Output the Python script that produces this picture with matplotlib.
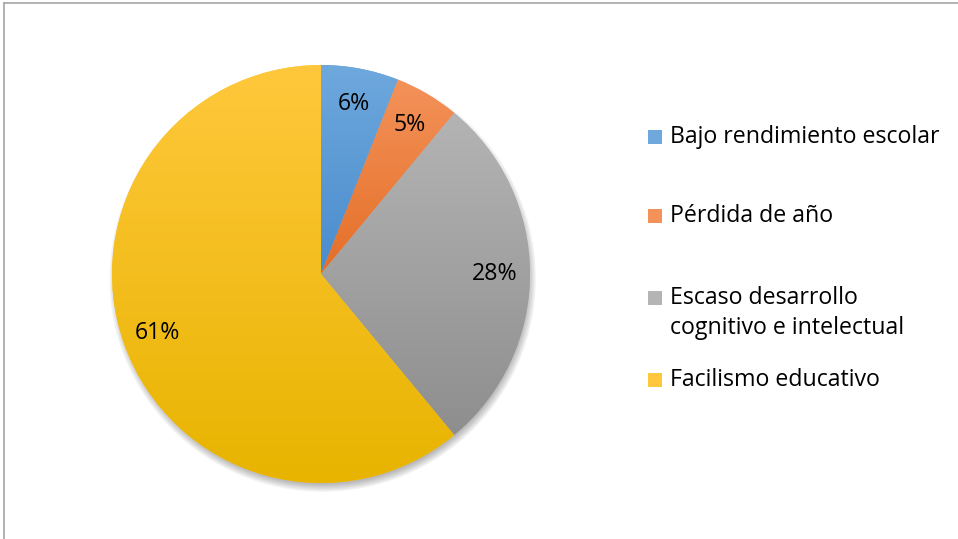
import numpy as np
import matplotlib
matplotlib.use("Agg")
import matplotlib.pyplot as plt
from matplotlib.lines import Line2D
from matplotlib.patches import Rectangle, Circle
from matplotlib.colors import LinearSegmentedColormap

labels = ["Bajo rendimiento escolar", "Pérdida de año",
          "Escaso desarrollo\ncognitivo e intelectual", "Facilismo educativo"]
values = [6, 5, 28, 61]
light = ["#6EA8DD", "#F4925A", "#B4B4B4", "#FFC83C"]
dark = ["#4A8CCD", "#E46F27", "#8E8E8E", "#E8B400"]

W, H = 958, 539
FONT = "Open Sans"
FS = 16.7

fig = plt.figure(figsize=(W / 100, H / 100), dpi=100)
fig.patch.set_facecolor("white")

# frame lines (top and left)
fig.add_artist(Line2D([4 / W, 1], [1 - 2.5 / H] * 2, color="#A6A6A6", lw=1.2))
fig.add_artist(Line2D([4 / W] * 2, [0, 1 - 2.5 / H], color="#A6A6A6", lw=1.2))

cx, cy, R = 321, 274, 209
half = 1.1 * R
ax = fig.add_axes([(cx - half) / W, (H - cy - half) / H, 2 * half / W, 2 * half / H])
ax.set_xlim(-1.1, 1.1); ax.set_ylim(-1.1, 1.1); ax.set_aspect("equal"); ax.axis("off")

# soft shadow, mostly below/right
for k in range(6):
    ax.add_patch(Circle((0.008, -0.022), 0.985 + 0.007 * k, color="black",
                        alpha=0.05, lw=0, zorder=0))

wedges, _, autotexts = ax.pie(values, startangle=90, counterclock=False,
                              colors=light, autopct="%d%%", pctdistance=0.83,
                              radius=1.0, wedgeprops=dict(lw=0),
                              textprops=dict(fontsize=FS, family=FONT, color="black"))
for w, lo, hi in zip(wedges, light, dark):
    w.set_zorder(1)
    bb = w.get_path().get_extents(w.get_patch_transform())
    cmap = LinearSegmentedColormap.from_list("g", [hi, lo])
    grad = np.linspace(0, 1, 256).reshape(-1, 1)
    im = ax.imshow(grad, cmap=cmap, origin="lower", aspect="auto",
                   extent=[bb.x0, bb.x1, bb.y0, bb.y1], zorder=2)
    im.set_clip_path(w)
for t in autotexts:
    t.set_zorder(3)
ax.set_xlim(-1.1, 1.1); ax.set_ylim(-1.1, 1.1)

# legend (y of first text line for each entry)
ys = [137, 216, 298, 380]
for lab, lo, y in zip(labels, light, ys):
    fig.add_artist(Rectangle((648 / W, 1 - (y + 7) / H), 14 / W, 14 / H,
                             facecolor=lo, edgecolor="none"))
    ty = y + 15 * lab.count("\n")
    fig.text(670 / W, 1 - ty / H, lab, fontsize=FS, family=FONT, va="center",
             ha="left", linespacing=1.3, color="black")

fig.savefig("out.png", dpi=100)
